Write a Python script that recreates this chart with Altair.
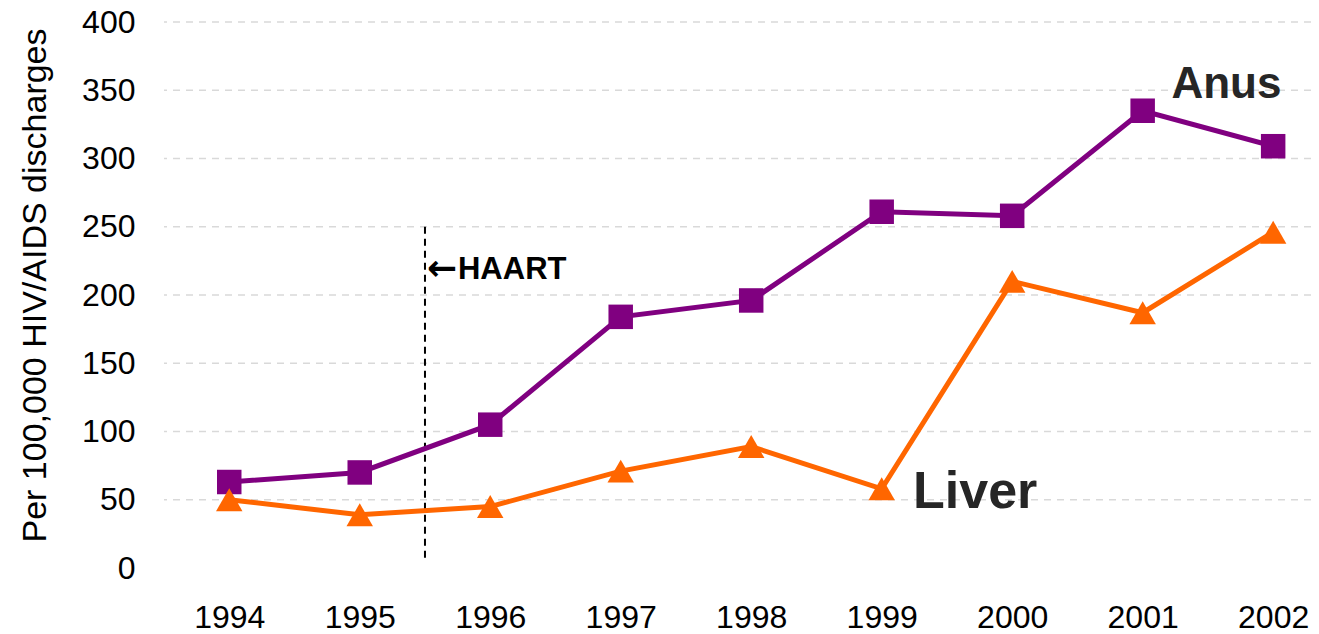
import altair as alt
import pandas as pd

years = [1994, 1995, 1996, 1997, 1998, 1999, 2000, 2001, 2002]
anus = [63, 70, 105, 184, 196, 261, 258, 335, 309]
liver = [50, 39, 45, 71, 89, 58, 210, 187, 246]
grid_values = [50, 100, 150, 200, 250, 300, 350, 400]
y_ticks = [0, 50, 100, 150, 200, 250, 300, 350, 400]
haart_x = 1995.5
haart_top = 250
haart_bottom = 7

df_anus = pd.DataFrame({"year": years, "value": anus})
df_liver = pd.DataFrame({"year": years, "value": liver})
df_grid = pd.DataFrame({"g": grid_values})

xs = alt.Scale(domain=[1993.5, 2002.29], nice=False, zero=False)
ys = alt.Scale(domain=[0, 400], nice=False)

xax = alt.Axis(values=years, format="d", grid=False, domain=False, ticks=False,
               labelFontSize=32, labelFont="Liberation Sans", labelColor="#000000",
               labelPadding=34, title=None, labelFlush=False)
yax = alt.Axis(values=y_ticks, grid=False, domain=False, ticks=False,
               labelFontSize=32, labelFont="Liberation Sans", labelColor="#000000",
               labelPadding=29, title="Per 100,000 HIV/AIDS discharges",
               titleFont="Liberation Sans", titleFontSize=34, titleFontWeight="normal",
               titleColor="#000000", titleX=-129, titleY=263, titleAngle=-90,
               titleAlign="center", titleBaseline="middle")

grid = alt.Chart(df_grid).mark_rule(color="#d9d9d9", strokeWidth=1.5, strokeDash=[7, 6]).encode(
    y=alt.Y("g:Q", scale=ys, axis=yax)
)

haart = alt.Chart(pd.DataFrame({"x": [haart_x], "y1": [haart_top], "y2": [haart_bottom]})).mark_rule(
    color="#000000", strokeWidth=2, strokeDash=[7, 5]
).encode(
    x=alt.X("x:Q", scale=xs, axis=xax),
    y=alt.Y("y1:Q", scale=ys),
    y2="y2:Q",
)

haart_df = pd.DataFrame({"x": [haart_x], "y": [212], "arrow": ["←"], "t": ["HAART"]})
haart_arrow = alt.Chart(haart_df).mark_text(
    align="left", baseline="middle", dx=2, dy=-10, font="DejaVu Sans", fontSize=36,
    fontWeight="bold", color="#000000"
).encode(x=alt.X("x:Q", scale=xs), y=alt.Y("y:Q", scale=ys), text="arrow:N")
haart_text = alt.Chart(haart_df).mark_text(
    align="left", baseline="alphabetic", dx=33, font="Liberation Sans", fontSize=31,
    fontWeight="bold", color="#000000"
).encode(x=alt.X("x:Q", scale=xs), y=alt.Y("y:Q", scale=ys), text="t:N")

anus_line = alt.Chart(df_anus).mark_line(color="#800080", strokeWidth=5).encode(
    x=alt.X("year:Q", scale=xs), y=alt.Y("value:Q", scale=ys)
)
anus_pts = alt.Chart(df_anus).mark_point(shape="square", filled=True, opacity=1,
                                          color="#800080", size=600).encode(
    x=alt.X("year:Q", scale=xs), y=alt.Y("value:Q", scale=ys)
)
liver_line = alt.Chart(df_liver).mark_line(color="#FF6600", strokeWidth=5).encode(
    x=alt.X("year:Q", scale=xs), y=alt.Y("value:Q", scale=ys)
)
liver_pts = alt.Chart(df_liver).mark_point(shape="triangle-up", filled=True, opacity=1,
                                            color="#FF6600", size=700).encode(
    x=alt.X("year:Q", scale=xs), y=alt.Y("value:Q", scale=ys)
)

labels = pd.DataFrame({"x": [2001.22, 1999.24], "y": [344, 44], "t": ["Anus", "Liver"]})
anus_lbl = alt.Chart(labels.iloc[[0]]).mark_text(
    align="left", baseline="alphabetic", font="Liberation Sans", fontSize=44,
    fontWeight="bold", color="#262626"
).encode(x=alt.X("x:Q", scale=xs), y=alt.Y("y:Q", scale=ys), text="t:N")
liver_lbl = alt.Chart(labels.iloc[[1]]).mark_text(
    align="left", baseline="alphabetic", font="Liberation Sans", fontSize=52,
    fontWeight="bold", color="#262626"
).encode(x=alt.X("x:Q", scale=xs), y=alt.Y("y:Q", scale=ys), text="t:N")

chart = alt.layer(
    grid, haart, haart_arrow, haart_text, liver_line, anus_line, anus_pts, liver_pts,
    anus_lbl, liver_lbl
).properties(
    width=1147, height=546,
    background="white",
    autosize=alt.AutoSizeParams(type="none"),
    padding={"left": 156, "top": 14, "right": 0, "bottom": 66},
).configure_view(stroke=None)

chart.save("out.html", embed_options={"renderer": "svg", "actions": False})
